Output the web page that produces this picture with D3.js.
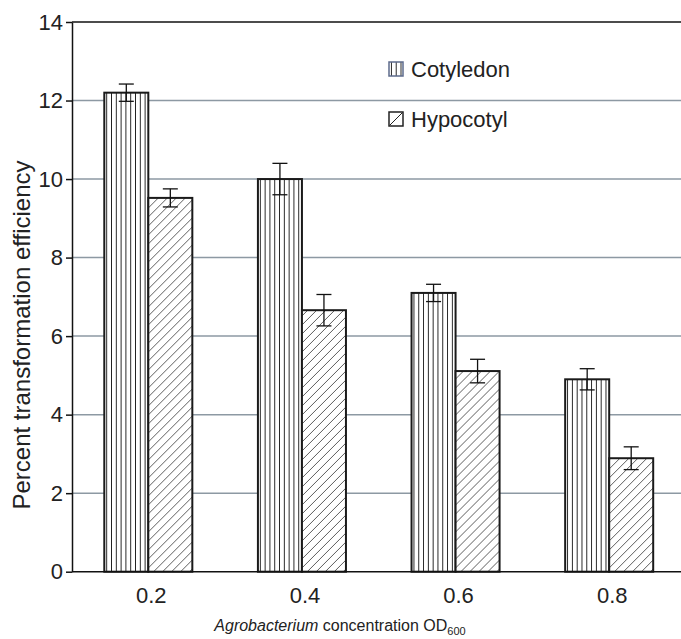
<!doctype html>
<html lang="en">
<head>
  <meta charset="utf-8">
  <title>Transformation efficiency</title>
  <style>
  body { margin: 0; background: #fff; }
  svg { display: block; font-family: "Liberation Sans", Arial, sans-serif; }
  .grid line { stroke: #8d99a3; stroke-width: 1.5; }
  .axis path, .axis line { stroke: #111; stroke-width: 1.5; }
  .axis text { fill: #222; font-size: 22px; }
  </style>
</head>
<body>
  <div id="chart"></div>
  <script src="https://cdn.jsdelivr.net/npm/d3@7"></script>
  <script>
var categories = ["0.2", "0.4", "0.6", "0.8"];
var series = ["Cotyledon", "Hypocotyl"];
var cotyledon = [12.2, 10.0, 7.1, 4.9];
var cotyledonErr = [0.22, 0.4, 0.22, 0.27];
var hypocotyl = [9.52, 6.66, 5.11, 2.89];
var hypocotylErr = [0.23, 0.4, 0.3, 0.29];
var yTicks = [0, 2, 4, 6, 8, 10, 12, 14];

(function() {
  var width = 681, height = 639;
  var left = 72, top = 22, bottom = 571.7;

  var svg = d3.select("#chart").append("svg")
      .attr("width", width)
      .attr("height", height);

  // fill patterns
  var defs = svg.append("defs");
  var vert = defs.append("pattern")
      .attr("id", "vert")
      .attr("patternUnits", "userSpaceOnUse")
      .attr("width", 4.8).attr("height", 10);
  vert.append("rect").attr("width", 4.8).attr("height", 10).attr("fill", "#fff");
  vert.append("line").attr("x1", 2.4).attr("x2", 2.4).attr("y1", 0).attr("y2", 10)
      .attr("stroke", "#222").attr("stroke-width", 1);

  var hatch = defs.append("pattern")
      .attr("id", "hatch")
      .attr("patternUnits", "userSpaceOnUse")
      .attr("width", 9).attr("height", 9);
  hatch.append("rect").attr("width", 9).attr("height", 9).attr("fill", "#fff");
  hatch.append("path").attr("d", "M-2,2 L2,-2 M0,9 L9,0 M7,11 L11,7")
      .attr("stroke", "#333").attr("stroke-width", 0.8);

  var y = d3.scaleLinear().domain([0, 14]).range([bottom, top]);
  var x0 = d3.scaleBand().domain(categories).range([71.5, 686])
      .paddingInner(0.427).paddingOuter(0.2135);
  var x1 = d3.scaleBand().domain(series).range([0, x0.bandwidth()]);

  // gridlines
  svg.append("g").attr("class", "grid")
    .selectAll("line").data(yTicks.filter(function(d) { return d > 0; }))
    .enter().append("line")
      .attr("x1", left).attr("x2", width)
      .attr("y1", function(d) { return y(d); })
      .attr("y2", function(d) { return y(d); })
      .style("stroke", function(d) { return d === 14 ? "#111" : null; });

  var rows = categories.map(function(c, i) {
    return [
      { cat: c, key: "Cotyledon", value: cotyledon[i], err: cotyledonErr[i], fill: "url(#vert)" },
      { cat: c, key: "Hypocotyl", value: hypocotyl[i], err: hypocotylErr[i], fill: "url(#hatch)" }
    ];
  });

  var groups = svg.append("g").selectAll("g").data(rows)
    .enter().append("g")
      .attr("transform", function(d, i) { return "translate(" + x0(categories[i]) + ",0)"; });

  groups.selectAll("rect").data(function(d) { return d; })
    .enter().append("rect")
      .attr("x", function(d) { return x1(d.key); })
      .attr("y", function(d) { return y(d.value); })
      .attr("width", x1.bandwidth())
      .attr("height", function(d) { return y(0) - y(d.value); })
      .attr("fill", function(d) { return d.fill; })
      .attr("stroke", "#1a1a1a")
      .attr("stroke-width", 2);

  // error bars
  var err = groups.selectAll("g.err").data(function(d) { return d; })
    .enter().append("g").attr("class", "err")
      .attr("stroke", "#111").attr("stroke-width", 1.3);
  var cx = function(d) { return x1(d.key) + x1.bandwidth() / 2; };
  err.append("line")
      .attr("x1", cx).attr("x2", cx)
      .attr("y1", function(d) { return y(d.value + d.err); })
      .attr("y2", function(d) { return y(d.value - d.err); });
  err.selectAll("line.cap").data(function(d) {
      return [{ d: d, v: d.value + d.err }, { d: d, v: d.value - d.err }];
    })
    .enter().append("line").attr("class", "cap")
      .attr("x1", function(e) { return cx(e.d) - 7.5; })
      .attr("x2", function(e) { return cx(e.d) + 7.5; })
      .attr("y1", function(e) { return y(e.v); })
      .attr("y2", function(e) { return y(e.v); });

  // axes
  svg.append("g").attr("class", "axis")
      .attr("transform", "translate(" + left + ",0)")
      .call(d3.axisLeft(y).tickValues(yTicks).tickSize(6).tickPadding(3).tickSizeOuter(0));

  svg.append("line")
      .attr("x1", left).attr("x2", width)
      .attr("y1", bottom).attr("y2", bottom)
      .attr("stroke", "#111").attr("stroke-width", 1.5);

  svg.append("g").selectAll("text").data(categories)
    .enter().append("text")
      .attr("x", function(d) { return x0(d) + x0.bandwidth() / 2 + 3; })
      .attr("y", 602.7)
      .attr("text-anchor", "middle")
      .attr("font-size", 22)
      .attr("fill", "#222")
      .text(function(d) { return d; });

  // axis titles
  svg.append("text")
      .attr("transform", "translate(30,335) rotate(-90)")
      .attr("text-anchor", "middle")
      .attr("font-size", 24)
      .attr("fill", "#222")
      .text("Percent transformation efficiency");

  var xt = svg.append("text")
      .attr("x", 340).attr("y", 631)
      .attr("text-anchor", "middle")
      .attr("font-size", 16)
      .attr("fill", "#222");
  xt.append("tspan").attr("font-style", "italic").text("Agrobacterium");
  xt.append("tspan").text(" concentration OD");
  xt.append("tspan").attr("font-size", 11).attr("dy", 4).text("600");

  // legend
  var legend = svg.append("g").selectAll("g").data(series)
    .enter().append("g")
      .attr("transform", function(d, i) { return "translate(389," + (62 + i * 50) + ")"; });
  legend.append("rect")
      .attr("width", 14).attr("height", 14)
      .attr("fill", function(d, i) { return i === 0 ? "url(#vert)" : "#fff"; })
      .attr("stroke", function(d, i) { return i === 0 ? "#5d6b8c" : "#222"; })
      .attr("stroke-width", 1.5);
  legend.filter(function(d, i) { return i === 1; }).append("line")
      .attr("x1", 1).attr("y1", 13).attr("x2", 13).attr("y2", 1)
      .attr("stroke", "#222").attr("stroke-width", 1);
  legend.append("text")
      .attr("x", 22).attr("y", 15)
      .attr("font-size", 22)
      .attr("fill", "#222")
      .text(function(d) { return d; });
})();
  </script>
</body>
</html>
